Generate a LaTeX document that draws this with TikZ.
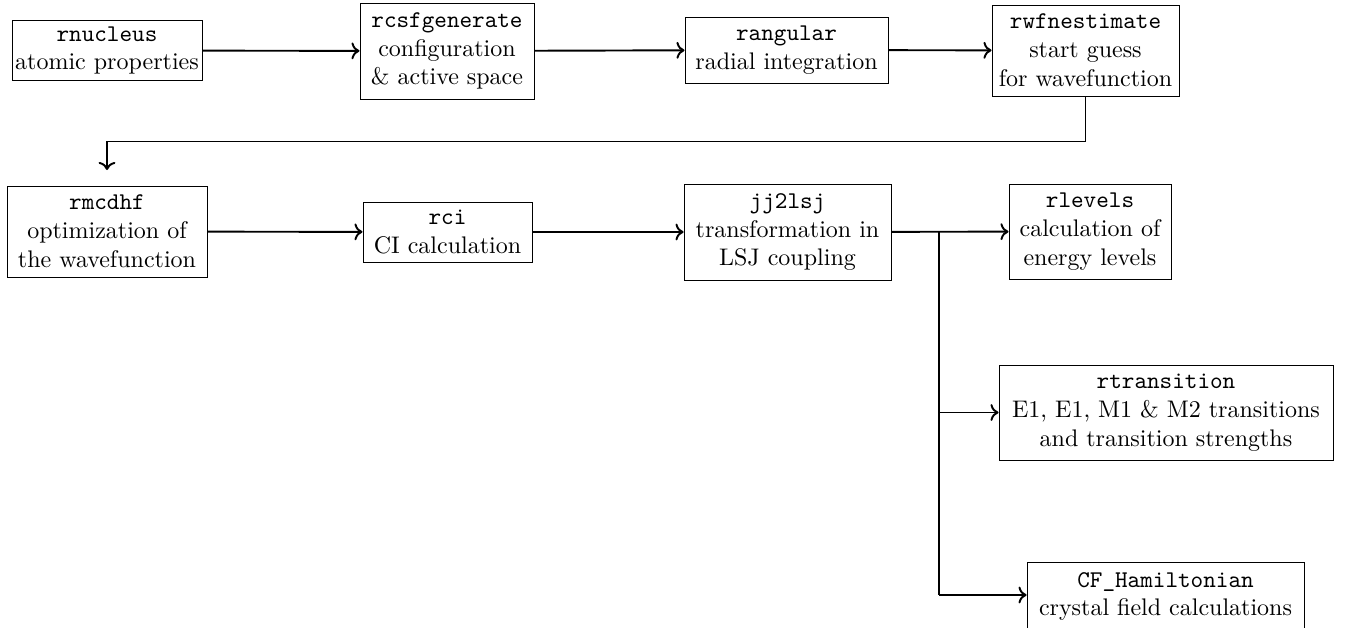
\documentclass[tikz,border=0pt]{standalone}
\usetikzlibrary{arrows.meta}
\begin{document}
\begin{tikzpicture}[x=0.41667pt,y=-0.41667pt,
  box/.style={draw, align=center, inner xsep=1pt, inner ysep=1pt, line width=0.4pt},
  conn/.style={thick, ->}]
\useasboundingbox (0,0) rectangle (1352,627);
\node[box, minimum width=190*0.41667pt, minimum height=60*0.41667pt] (nuc) at (107,50.5) {\texttt{rnucleus}\\atomic properties};
\node[box, minimum width=174*0.41667pt, minimum height=96*0.41667pt] (csf) at (447,51) {\texttt{rcsfgenerate}\\configuration\\\& active space};
\node[box, minimum width=203*0.41667pt, minimum height=66*0.41667pt] (ang) at (786.5,50) {\texttt{rangular}\\radial integration};
\node[box, minimum width=187*0.41667pt, minimum height=91*0.41667pt] (wfn) at (1085.5,50.5) {\texttt{rwfnestimate}\\start guess\\for wavefunction};
\node[box, minimum width=200*0.41667pt, minimum height=91*0.41667pt] (mcd) at (107,231.5) {\texttt{rmcdhf}\\optimization of\\the wavefunction};
\node[box, minimum width=169*0.41667pt, minimum height=60*0.41667pt] (rci) at (447.5,232) {\texttt{rci}\\CI calculation};
\node[box, minimum width=207*0.41667pt, minimum height=96*0.41667pt] (jj) at (787.5,232) {\texttt{jj2lsj}\\transformation in\\LSJ coupling};
\node[box, minimum width=162*0.41667pt, minimum height=95*0.41667pt] (lev) at (1090,231.5) {\texttt{rlevels}\\calculation of\\energy levels};
\node[box, minimum width=334*0.41667pt, minimum height=95*0.41667pt] (tra) at (1166,412.5) {\texttt{rtransition}\\E1, E1, M1 \& M2 transitions\\and transition strengths};
\node[box, minimum width=277*0.41667pt, minimum height=68*0.41667pt] (cfh) at (1165.5,596.5) {\texttt{CF\_Hamiltonian}\\crystal field calculations};
\coordinate (down) at (107,170);
\coordinate (br) at (939,232);
\coordinate (cfin) at (939,595);
\draw[conn] (nuc) -- (csf);
\draw[conn] (csf) -- (ang);
\draw[conn] (ang) -- (wfn);
\draw[conn] (wfn.south) -- ++(0,45) -| (down);
\draw[conn] (mcd) -- (rci);
\draw[conn] (rci) -- (jj);
\draw[conn] (jj) -- (lev);
\draw[thick] (br) -- (cfin);
\draw[conn] (br |- tra) -- (tra);
\draw[conn] (cfin) -- (cfin -| cfh.west);
\end{tikzpicture}
\end{document}
